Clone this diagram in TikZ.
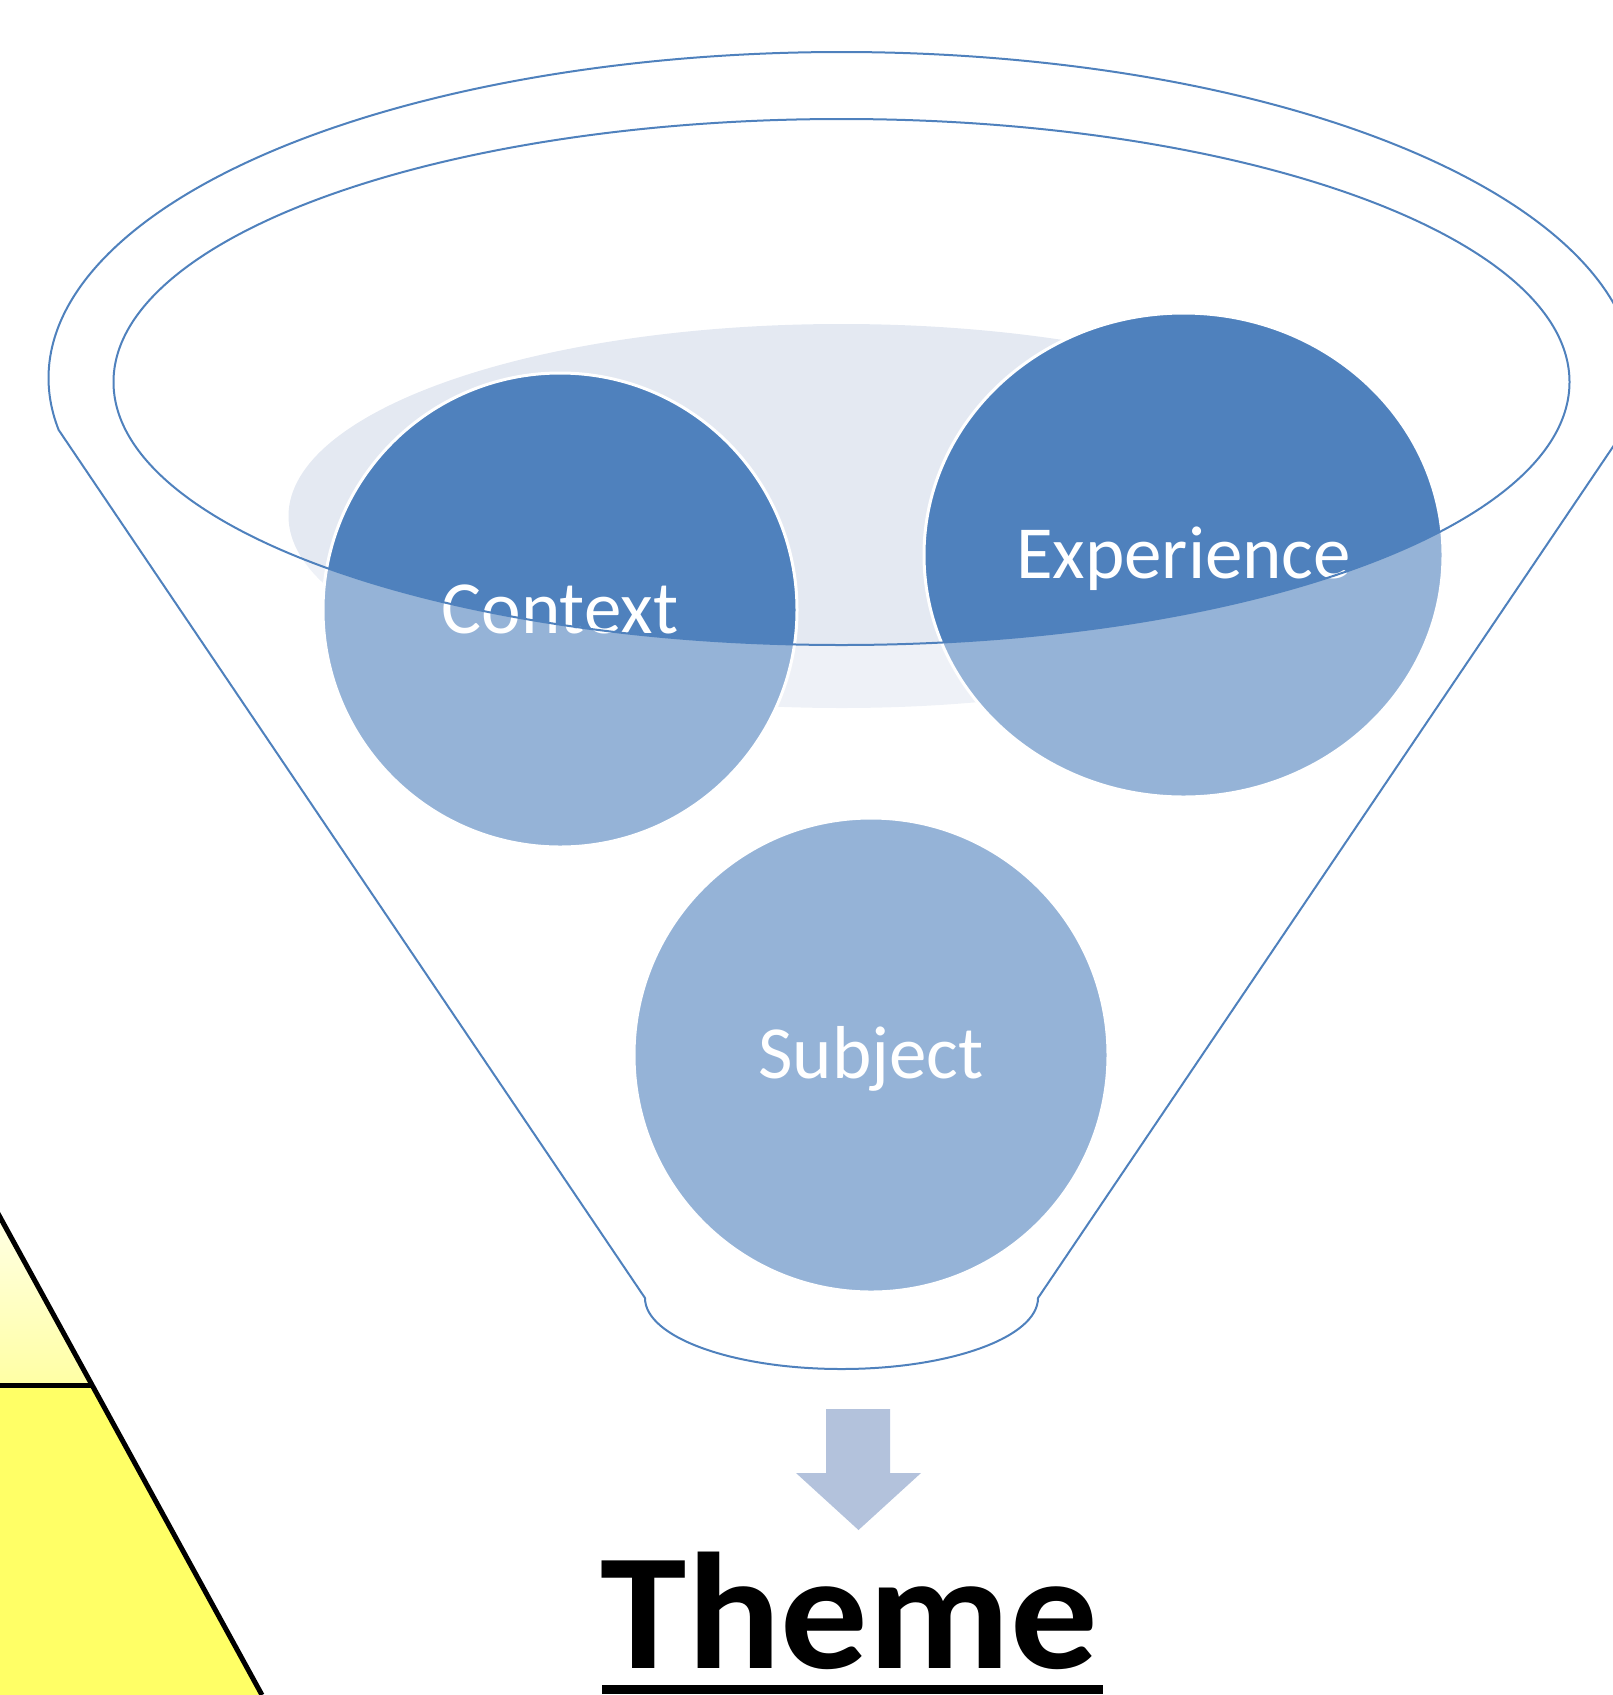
\documentclass[tikz,border=0pt]{standalone}
\usepackage{fontspec}
\newfontfamily\labelfont{Carlito}
\usetikzlibrary{shapes.geometric}

\definecolor{rimblue}{HTML}{4F81BD}
\definecolor{ballblue}{HTML}{4F81BD}
\definecolor{haze}{HTML}{E4E9F2}
\definecolor{arrowblue}{HTML}{B3C2DC}
\definecolor{paleyellow}{HTML}{FFFFA4}
\definecolor{brightyellow}{HTML}{FFFF66}

% outline of the funnel: rim arc, sides and the spout
\newcommand\funnelpath{(58.7,430) -- (645,1298)
  arc[start angle=180, end angle=0, x radius=196.5, y radius=71]
  -- (1624.3,430)
  arc[start angle=9.18, end angle=-189.18, x radius=793, y radius=326] -- cycle}

\tikzset{
  ball/.style={ellipse, fill=ballblue, draw=white, line width=3pt, text=white,
    font=\labelfont\fontsize{75}{90}\selectfont,
    text height=46pt, text depth=0pt, inner sep=0pt},
  rim/.style={draw=rimblue, line width=2pt},
}

\begin{document}
\begin{tikzpicture}[x=1pt,y=-1pt]
\useasboundingbox (0,0) rectangle (1612,1695);

% Corner of the pyramid
\shade[top color=paleyellow!30, bottom color=paleyellow] (0,1217) -- (92,1385) -- (0,1385) -- cycle;
\fill[brightyellow] (0,1385) -- (92,1385) -- (262,1695) -- (0,1695) -- cycle;
\draw[line width=5pt] (-5,1208) -- (262,1695);
\draw[line width=5pt] (0,1385) -- (92,1385);

% Back of the funnel
\fill[haze] (841.5,516) ellipse [x radius=553, y radius=192];

% Balls
\foreach \name/\x/\y/\w/\h/\txt in {
  context/560/610/474/474/Context,
  experience/1183.5/555/519/484/Experience,
  subject/871/1055/474/474/Subject
} {
  \node[ball, minimum width=\w pt, minimum height=\h pt] (\name) at (\x,\y) {\txt};
}

% Front of the funnel
\fill[white, fill opacity=0.4, even odd rule] \funnelpath
  (841.5,382) ellipse [x radius=728, y radius=263];
\draw[rim] \funnelpath;
\draw[rim] (841.5,382) ellipse [x radius=728, y radius=263];

% Arrow down to the theme
\fill[arrowblue] (826,1409) -- (890,1409) -- (890,1473) -- (921,1473)
  -- (858.5,1530) -- (796,1473) -- (826,1473) -- cycle;

% Theme
\node[font=\labelfont\bfseries\fontsize{166}{180}\selectfont, anchor=base,
  inner sep=0pt, xscale=1.05] (theme) at (849.5,1668) {Theme};
\fill (602,1684.5) rectangle (1103,1693.5);

\end{tikzpicture}
\end{document}
